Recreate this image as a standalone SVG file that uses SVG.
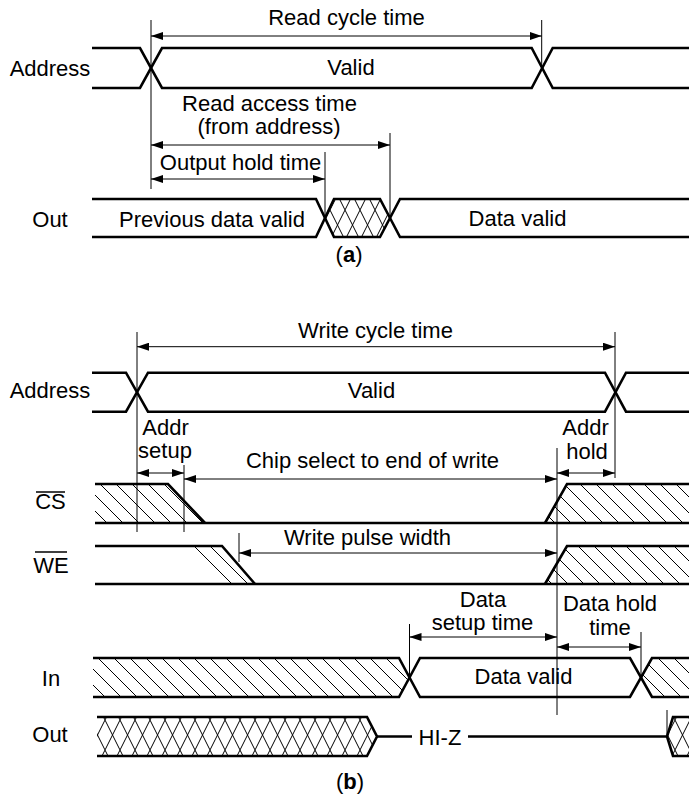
<svg xmlns="http://www.w3.org/2000/svg" width="689" height="799" viewBox="0 0 689 799">
<style>
  text { font-family: "Liberation Sans", Arial, Helvetica, sans-serif; font-size: 22px; fill: #000; }
  .c { text-anchor: middle; }
  .sig { fill: none; stroke: #000; stroke-width: 2.6; stroke-linejoin: miter; }
  .ref { fill: none; stroke: #000; stroke-width: 1; }
  .dim { fill: none; stroke: #000; stroke-width: 1; marker-start: url(#ah); marker-end: url(#ah); }
  .ol { stroke: #000; stroke-width: 1.5; }
</style>
<defs>
  <marker id="ah" viewBox="0 0 12 8" refX="12" refY="4" markerWidth="12" markerHeight="8" markerUnits="userSpaceOnUse" orient="auto-start-reverse">
    <path d="M0,0 L12,4 L0,8 z" fill="#000"/>
  </marker>
  <pattern id="xh" patternUnits="userSpaceOnUse" width="15" height="30">
    <path d="M0,0 L15,30 M15,0 L0,30" stroke="#000" stroke-width="1" fill="none"/>
  </pattern>
  <pattern id="hh" patternUnits="userSpaceOnUse" width="16" height="16">
    <path d="M0,0 L16,16 M-4,12 L4,20 M12,-4 L20,4" stroke="#000" stroke-width="1" fill="none"/>
  </pattern>
</defs>
<rect width="689" height="799" fill="#fff"/>

<!-- Part (a) -->
<g id="a-address">
  <text x="50" y="76" class="c">Address</text>
  <path class="sig" d="M92,48 H140 L162,88 H531.7 L552.7,48 H689"/>
  <path class="sig" d="M92,88 H140 L162,48 H531.7 L552.7,88 H689"/>
  <text x="351" y="75" class="c">Valid</text>
</g>
<g id="a-out">
  <text x="50" y="227" class="c">Out</text>
  <polygon points="334,199 380,199 390,218 380,237 334,237 325,218" fill="url(#xh)"/>
  <path class="sig" d="M92,199 H316 L334,237 H380 L400,199 H689"/>
  <path class="sig" d="M92,237 H316 L334,199 H380 L400,237 H689"/>
  <text x="212" y="227" class="c">Previous data valid</text>
  <text x="517.5" y="226" class="c">Data valid</text>
</g>
<g id="a-label">
  <text x="349" y="262" class="c">(<tspan font-weight="bold">a</tspan>)</text>
</g>

<!-- Part (b) -->
<g id="b-address">
  <text x="50" y="398" class="c">Address</text>
  <path class="sig" d="M92,372.7 H126 L148,411.7 H605 L626,372.7 H689"/>
  <path class="sig" d="M92,411.7 H126 L148,372.7 H605 L626,411.7 H689"/>
  <text x="371.5" y="398" class="c">Valid</text>
</g>
<g id="b-cs">
  <text x="50.5" y="509" class="c">CS</text>
  <line class="ol" x1="36" y1="492" x2="65" y2="492"/>
  <polygon points="95,484 168,484 205,523 95,523" fill="url(#hh)"/>
  <polygon points="545,523 567,484 689,484 689,523" fill="url(#hh)"/>
  <path class="sig" d="M95,484 H168 L205,523"/>
  <path class="sig" d="M95,523 H689"/>
  <path class="sig" d="M545,523 L567,484 H689"/>
</g>
<g id="b-we">
  <text x="51" y="573" class="c">WE</text>
  <line class="ol" x1="35" y1="552" x2="67" y2="552"/>
  <polygon points="180,546 222,546 255,584 218,584" fill="url(#hh)"/>
  <polygon points="545,584 567,546 689,546 689,584" fill="url(#hh)"/>
  <path class="sig" d="M95,546 H222 L255,584"/>
  <path class="sig" d="M95,584 H689"/>
  <path class="sig" d="M545,584 L567,546 H689"/>
</g>
<g id="b-in">
  <text x="51" y="686" class="c">In</text>
  <polygon points="93,658 399,658 409.5,677.5 399,697 93,697" fill="url(#hh)"/>
  <polygon points="689,658 652,658 641,677.5 652,697 689,697" fill="url(#hh)"/>
  <path class="sig" d="M93,658 H399 L420,697 H630 L652,658 H689"/>
  <path class="sig" d="M93,697 H399 L420,658 H630 L652,697 H689"/>
  <text x="523.5" y="684" class="c">Data valid</text>
</g>
<g id="b-out">
  <text x="50" y="742" class="c">Out</text>
  <polygon points="97,717 367,717 377,736.5 367,756 97,756" fill="url(#xh)"/>
  <polygon points="689,717 673,717 667,736.5 673,756 689,756" fill="url(#xh)"/>
  <path class="sig" d="M97,717 H367 L377,736.5 L367,756 H97"/>
  <path class="sig" d="M377,736.5 H412 M468,736.5 H667"/>
  <path class="sig" d="M689,717 H673 L667,736.5 L673,756 H689"/>
  <text x="440" y="745" class="c">HI-Z</text>
</g>
<g id="b-label">
  <text x="350" y="789" class="c">(<tspan font-weight="bold">b</tspan>)</text>
</g>

<!-- Connectors: reference lines and dimension arrows -->
<g id="connectors">
  <line class="ref" x1="151" y1="20" x2="151" y2="189"/>
  <line class="ref" x1="541.7" y1="20" x2="541.7" y2="68"/>
  <line class="ref" x1="390" y1="133" x2="390" y2="218"/>
  <line class="ref" x1="325" y1="152" x2="325" y2="218"/>
  <line class="dim" x1="151" y1="36" x2="541.7" y2="36"/>
  <line class="dim" x1="151" y1="145" x2="390" y2="145"/>
  <line class="dim" x1="151" y1="179" x2="325" y2="179"/>
  <line class="ref" x1="137" y1="332" x2="137" y2="532"/>
  <line class="ref" x1="615" y1="332" x2="615" y2="478"/>
  <line class="ref" x1="184" y1="465" x2="184" y2="532"/>
  <line class="ref" x1="557" y1="448" x2="557" y2="715"/>
  <line class="ref" x1="239" y1="533" x2="239" y2="562"/>
  <line class="ref" x1="409.5" y1="624" x2="409.5" y2="677"/>
  <line class="ref" x1="641" y1="632" x2="641" y2="677"/>
  <line class="ref" x1="667" y1="710" x2="667" y2="736"/>
  <line class="dim" x1="137" y1="346.7" x2="615" y2="346.7"/>
  <line class="dim" x1="137" y1="473" x2="184" y2="473"/>
  <line class="dim" x1="184" y1="479" x2="557" y2="479"/>
  <line class="dim" x1="557" y1="473" x2="615" y2="473"/>
  <line class="dim" x1="239" y1="553" x2="557" y2="553"/>
  <line class="dim" x1="409.5" y1="637" x2="557" y2="637"/>
  <line class="dim" x1="557" y1="647" x2="641" y2="647"/>
</g>

<!-- Dimension labels -->
<g id="dim-labels">
  <text x="346.5" y="25" class="c">Read cycle time</text>
  <text x="269.5" y="111" class="c">Read access time</text>
  <text x="269" y="134" class="c">(from address)</text>
  <text x="240.5" y="170" class="c">Output hold time</text>
  <text x="375.5" y="338" class="c">Write cycle time</text>
  <text x="165.5" y="435" class="c">Addr</text>
  <text x="165" y="458" class="c">setup</text>
  <text x="585.5" y="435" class="c">Addr</text>
  <text x="587" y="459" class="c">hold</text>
  <text x="372.5" y="468" class="c">Chip select to end of write</text>
  <text x="367.5" y="545" class="c">Write pulse width</text>
  <text x="483" y="607" class="c">Data</text>
  <text x="482.5" y="630" class="c">setup time</text>
  <text x="610" y="611" class="c">Data hold</text>
  <text x="610" y="635" class="c">time</text>
</g>
</svg>
